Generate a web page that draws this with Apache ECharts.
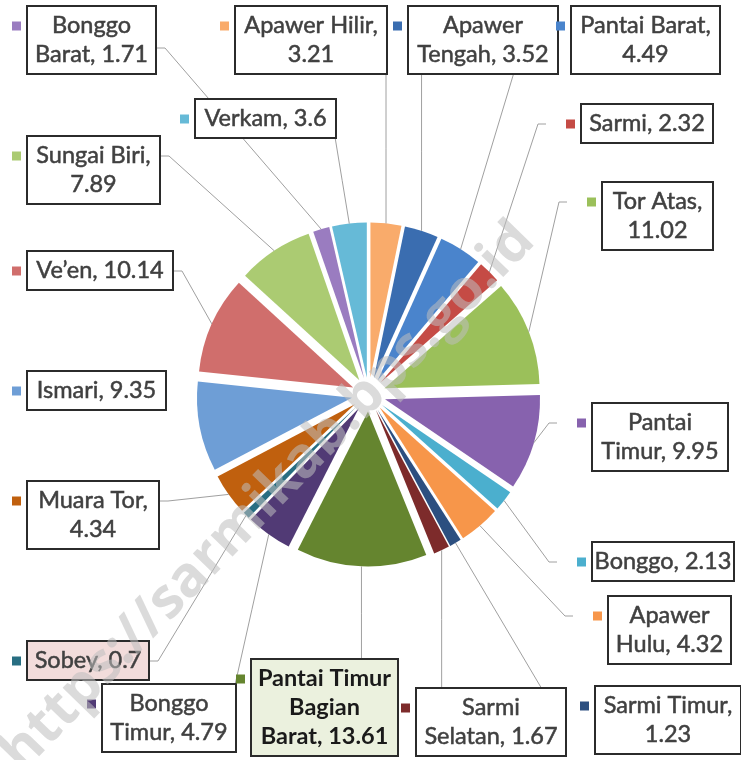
<!DOCTYPE html>
<html><head><meta charset="utf-8">
<script src="https://cdn.jsdelivr.net/npm/echarts@6/dist/echarts.min.js"></script>
<style>html,body{margin:0;padding:0;background:#fff}#c{width:741px;height:760px}</style>
</head><body><div id="c"></div>
<script>
// ---- data ----
const names = ['Apawer Hilir','Apawer Tengah','Pantai Barat','Sarmi','Tor Atas','Pantai Timur','Bonggo','Apawer Hulu','Sarmi Timur','Sarmi Selatan','Pantai Timur Bagian Barat','Bonggo Timur','Sobey','Muara Tor','Ismari','Ve\u2019en','Sungai Biri','Bonggo Barat','Verkam'];
const values = [3.21,3.52,4.49,2.32,11.02,9.95,2.13,4.32,1.23,1.67,13.61,4.79,0.7,4.34,9.35,10.14,7.89,1.71,3.6];

// ---- styles ----
const colors = ['#F9AB6B','#3A6DB0','#4A84CC','#C54B45','#9BC05A','#8762AE','#4BAFCE','#F7964A','#2C4F80','#7D2B2B','#65852F','#513A75','#286E82','#C0600E','#6E9ED6','#D06E6C','#ABCB72','#9A7CC0','#66BAD7'];
const boxFill = {12:'#F2DCDB', 10:'#EBF1DE'};
// ---- label layout: [boxLeft, boxTop, boxWidth, leaderSide, leaderY offset] ----
const boxes = [
 [236,7,150,'b'],[409,7,148,'b'],[572,7,147,'l'],[582,105,130,'l'],[603,183,109,'l'],
 [593,404,134,'l'],[593,543,140,'l'],[609,597,121,'l'],[596,687,144,'l'],[417,689,148,'t'],
 [252,660,145,'t'],[103,685,132,'t'],[28,642,120,'r'],[28,482,130,'r'],[28,372,137,''],
 [28,252,144,'r'],[28,137,131,'r'],[28,7,127,'r',41],[196,100,139,'b']
];
// word counts after which the label text wraps
const breaks = [[2],[1],[2],[],[2],[1],[],[1],[2],[1],[2,3],[1],[],[2],[],[],[2],[1],[]];

const CENTER = [368.7, 394.5], RADIUS = 155, EXPLODE = 17;
const LH = 29, PADV = 4, KEY = 9, KEYGAP = 7;

function labelText(i) {
  const toks = (names[i] + ', ' + values[i]).split(' ');
  const lines = []; let cur = [];
  toks.forEach((t, k) => { cur.push(t); if (breaks[i].indexOf(k + 1) >= 0) { lines.push(cur.join(' ')); cur = []; } });
  if (cur.length) lines.push(cur.join(' '));
  return lines.join('\n');
}
function boxHeight(i) { return (breaks[i].length + 1) * LH + 2 * PADV; }
const clamp = (v, a, b) => Math.max(a, Math.min(b, v));

const chart = echarts.init(document.getElementById('c'), null, {renderer: 'canvas'});
const base = {type: 'pie', center: CENTER, radius: RADIUS, startAngle: 90, clockwise: true,
  avoidLabelOverlap: false, animation: false, emphasis: {disabled: true}};

chart.setOption({
  animation: false,
  backgroundColor: '#fff',
  series: [
    Object.assign({}, base, {
      selectedMode: 'multiple', selectedOffset: EXPLODE,
      label: {show: false}, labelLine: {show: false},
      select: {itemStyle: {borderWidth: 0}},
      data: names.map((n, i) => ({name: n, value: values[i], selected: true, itemStyle: {color: colors[i], borderWidth: 0}}))
    }),
    Object.assign({}, base, {
      silent: true, z: 3,
      itemStyle: {color: 'rgba(0,0,0,0)'},
      label: {show: true, position: 'outside', formatter: p => labelText(p.dataIndex),
        fontFamily: 'Lato', fontSize: 23.5, lineHeight: LH, color: '#404040',
        textBorderColor: '#404040', textBorderWidth: 0.5,
        backgroundColor: '#fff', borderColor: '#2b2b2b', borderWidth: 2, padding: [PADV, 0], overflow: 'none'},
      labelLine: {show: true, length: 10, length2: 10, lineStyle: {color: '#a0a0a0', width: 1}},
      labelLayout: function (params) {
        const i = params.dataIndex, b = boxes[i], h = boxHeight(i);
        const res = {x: b[0] + b[2] / 2, y: b[1], align: 'center', verticalAlign: 'top'};
        const p0 = params.labelLinePoints && params.labelLinePoints[0];
        if (p0 && b[3]) {
          const dx = p0[0] - CENTER[0], dy = p0[1] - CENTER[1], len = Math.hypot(dx, dy);
          const P = [p0[0] + dx / len * EXPLODE, p0[1] + dy / len * EXPLODE];
          const ly = b[1] + (b[4] != null ? b[4] : 19);
          let E, Q;
          if (b[3] === 'l') { E = [b[0] - KEYGAP - KEY - 20, ly]; Q = [E[0] - 8, E[1]]; }
          else if (b[3] === 'r') { E = [b[0] + b[2] + 2, ly]; Q = [E[0] + 8, E[1]]; }
          else if (b[3] === 'b') { E = [clamp(P[0], b[0], b[0] + b[2]), b[1] + h]; Q = [(E[0] + P[0]) / 2, (E[1] + P[1]) / 2]; }
          else { E = [clamp(P[0], b[0], b[0] + b[2]), b[1]]; Q = [(E[0] + P[0]) / 2, (E[1] + P[1]) / 2]; }
          res.labelLinePoints = [P, Q, E];
        }
        return res;
      },
      data: names.map((n, i) => {
        const d = {name: n, value: values[i], label: {width: boxes[i][2]}};
        if (boxFill[i]) d.label.backgroundColor = boxFill[i];
        if (i === 10) { d.label.fontWeight = 'bold'; d.label.color = '#1a1a1a'; d.label.textBorderWidth = 0; }
        if (!boxes[i][3]) d.labelLine = {show: false};
        return d;
      })
    }),
    Object.assign({}, base, {
      silent: true, z: 4,
      itemStyle: {color: 'rgba(0,0,0,0)'},
      label: {show: true, position: 'outside', formatter: '{a|}'},
      labelLine: {show: false},
      labelLayout: function (params) {
        const b = boxes[params.dataIndex];
        return {x: b[0] - KEYGAP - KEY, y: b[1] + 19 - KEY / 2, align: 'left', verticalAlign: 'top'};
      },
      data: names.map((n, i) => ({name: n, value: values[i],
        label: {rich: {a: {width: KEY, height: KEY, backgroundColor: colors[i]}}}}))
    })
  ],
  graphic: [{
    type: 'text', x: 268, y: 497, rotation: Math.PI / 4 * 1.02, z: 100, silent: true,
    style: {text: 'https://sarmikab.bps.go.id', font: 'bold 56px "Open Sans"', fill: 'rgba(190,190,190,0.55)', align: 'center', verticalAlign: 'middle'}
  }]
});
</script></body></html>
